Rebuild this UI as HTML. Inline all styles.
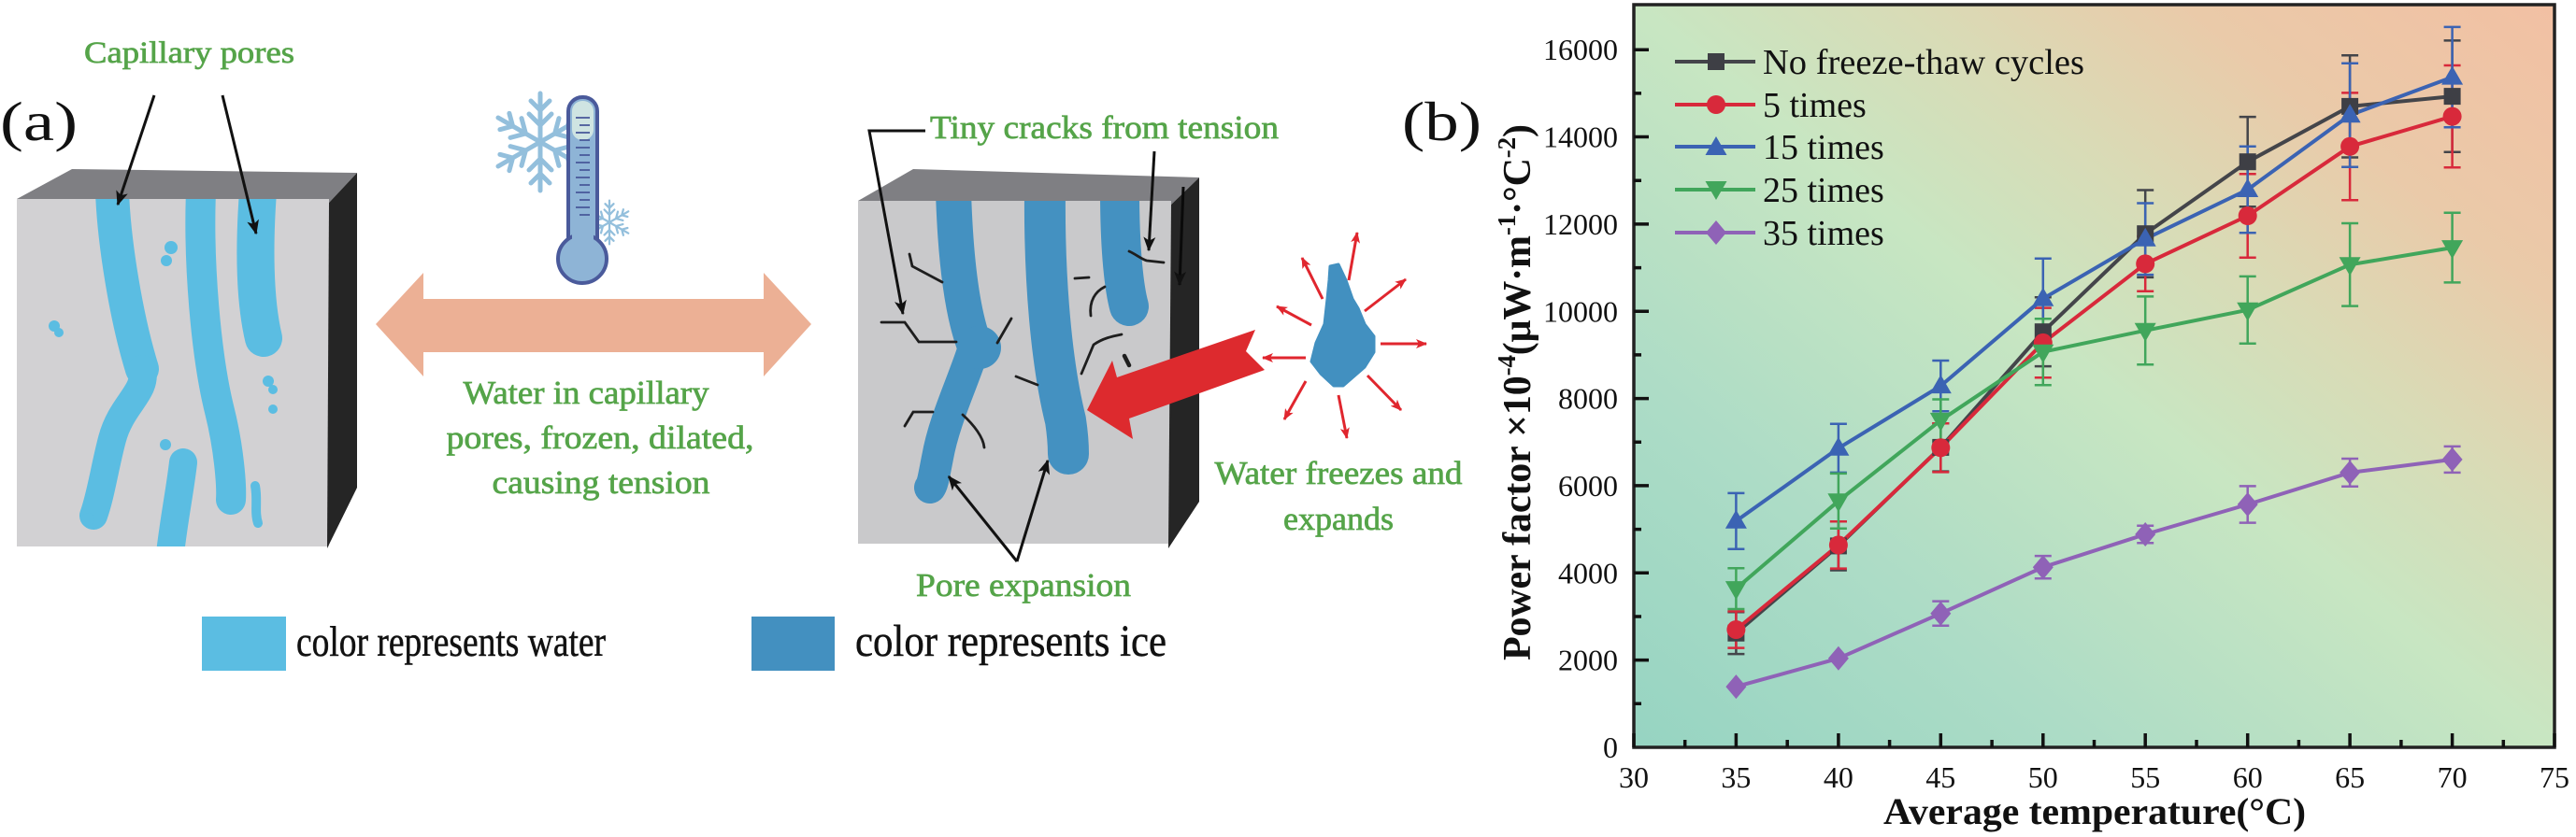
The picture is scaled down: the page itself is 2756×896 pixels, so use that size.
<!DOCTYPE html>
<html>
<head>
<meta charset="utf-8">
<style>
html,body{margin:0;padding:0;background:#fff;}
svg{display:block;font-family:"Liberation Serif","Times New Roman",Times,"Nimbus Roman","FreeSerif","DejaVu Serif",serif;}
svg text{font-family:"Liberation Serif","Times New Roman",Times,"Nimbus Roman","FreeSerif","DejaVu Serif",serif;}
</style>
</head>
<body>
<svg width="2756" height="896" viewBox="0 0 2756 896" xmlns="http://www.w3.org/2000/svg" font-family="Liberation Serif, Times New Roman, Times, DejaVu Serif, serif">
<defs>
  <linearGradient id="bg" x1="0" y1="1" x2="1" y2="0">
    <stop offset="0" stop-color="#96d4c2"/>
    <stop offset="0.25" stop-color="#addcc6"/>
    <stop offset="0.5" stop-color="#c8e6c2"/>
    <stop offset="0.65" stop-color="#d9dbb6"/>
    <stop offset="0.8" stop-color="#eacaa9"/>
    <stop offset="1" stop-color="#f2c0a3"/>
  </linearGradient>
  <clipPath id="f1"><rect x="18" y="213" width="334" height="372"/></clipPath>
  <clipPath id="f2"><rect x="918" y="215" width="335" height="367"/></clipPath>
  <marker id="ah" viewBox="0 0 12 10" refX="11" refY="5" markerWidth="16" markerHeight="13" markerUnits="userSpaceOnUse" orient="auto">
    <path d="M0,0 L12,5 L0,10 L3,5 z" fill="#111"/>
  </marker>
  <marker id="rh" viewBox="0 0 12 10" refX="11" refY="5" markerWidth="12" markerHeight="10" markerUnits="userSpaceOnUse" orient="auto">
    <path d="M0,0 L12,5 L0,10 L3,5 z" fill="#e0262e"/>
  </marker>
  <rect id="sq" x="-9" y="-9" width="18" height="18" fill="#3e3f45"/>
  <circle id="ci" r="10" fill="#d8293b"/>
  <path id="tu" d="M0,-12 L11.5,8 L-11.5,8Z" fill="#3b63b3"/>
  <path id="td" d="M0,12 L11.5,-8 L-11.5,-8Z" fill="#41a65b"/>
  <path id="di" d="M0,-13 L11,0 L0,13 L-11,0Z" fill="#8f62b7"/>
  <g id="flake" stroke="#93bfdc" stroke-width="5" stroke-linecap="round" fill="none">
    <path d="M0,0 L0,-52 M0,-18 L-12,-30 M0,-18 L12,-30 M0,-34 L-10,-44 M0,-34 L10,-44"/>
  </g>
</defs>

<!-- ================= PANEL (a) ================= -->
<text x="0" y="150" font-size="59" fill="#111" textLength="83" lengthAdjust="spacingAndGlyphs">(a)</text>
<g fill="#55a449" stroke="#55a449" stroke-width="0.7">
<text x="90" y="67" font-size="33" textLength="225" lengthAdjust="spacingAndGlyphs">Capillary pores</text>
</g>

<!-- cube 1 -->
<polygon points="18,213 77,181 382,185 352,217" fill="#7f7f83"/>
<rect x="18" y="213" width="334" height="372" fill="#d2d1d3"/>
<polygon points="352,217 382,185 382,522 350,587" fill="#252525"/>
<g clip-path="url(#f1)" fill="none" stroke="#5bbde2" stroke-linecap="round" stroke-linejoin="round">
  <path d="M120,205 C122,260 135,340 152,395" stroke-width="36"/>
  <path d="M152,395 C158,420 130,432 120,470 C112,500 108,530 100,552" stroke-width="30"/>
  <path d="M215,205 C212,280 220,380 235,440 C245,480 248,520 247,535" stroke-width="32"/>
  <path d="M276,205 C272,260 272,320 282,362" stroke-width="40"/>
  <path d="M196,495 C192,530 185,560 180,610" stroke-width="30"/>
  <path d="M273,520 C276,535 272,548 276,560" stroke-width="10"/>
</g>
<g fill="#5bbde2">
  <circle cx="58" cy="349" r="6"/><circle cx="63" cy="356" r="5"/>
  <circle cx="183" cy="265" r="7"/><circle cx="178" cy="279" r="6"/>
  <circle cx="287" cy="408" r="6"/><circle cx="292" cy="417" r="5"/><circle cx="292" cy="438" r="5"/>
  <circle cx="177" cy="476" r="6"/>
  <circle cx="94" cy="556" r="7"/>
</g>
<line x1="165" y1="102" x2="126" y2="219" stroke="#111" stroke-width="3" marker-end="url(#ah)"/>
<line x1="238" y1="102" x2="274" y2="250" stroke="#111" stroke-width="3" marker-end="url(#ah)"/>

<!-- snowflake + thermometer -->
<g transform="translate(578,152)">
  <use href="#flake"/><use href="#flake" transform="rotate(60)"/><use href="#flake" transform="rotate(120)"/>
  <use href="#flake" transform="rotate(180)"/><use href="#flake" transform="rotate(240)"/><use href="#flake" transform="rotate(300)"/>
</g>
<g transform="translate(652,238) scale(0.45)">
  <use href="#flake"/><use href="#flake" transform="rotate(60)"/><use href="#flake" transform="rotate(120)"/>
  <use href="#flake" transform="rotate(180)"/><use href="#flake" transform="rotate(240)"/><use href="#flake" transform="rotate(300)"/>
</g>
<rect x="608" y="104" width="31" height="170" rx="15" fill="#8eb4d6" stroke="#4a5a9b" stroke-width="4"/>
<circle cx="623" cy="277" r="26" fill="#8eb4d6" stroke="#4a5a9b" stroke-width="4"/>
<rect x="612" y="240" width="23" height="40" fill="#8eb4d6"/>
<rect x="612" y="108" width="23" height="42" rx="11" fill="#cfe4e2"/>
<g stroke="#4a5a9b" stroke-width="1.8">
  <line x1="616" y1="126" x2="631" y2="126"/><line x1="620" y1="134" x2="631" y2="134"/>
  <line x1="616" y1="142" x2="631" y2="142"/><line x1="620" y1="150" x2="631" y2="150"/>
  <line x1="616" y1="158" x2="631" y2="158"/><line x1="620" y1="166" x2="631" y2="166"/>
  <line x1="616" y1="174" x2="631" y2="174"/><line x1="620" y1="182" x2="631" y2="182"/>
  <line x1="616" y1="190" x2="631" y2="190"/><line x1="620" y1="198" x2="631" y2="198"/>
  <line x1="616" y1="206" x2="631" y2="206"/><line x1="620" y1="214" x2="631" y2="214"/>
  <line x1="616" y1="222" x2="631" y2="222"/><line x1="620" y1="230" x2="631" y2="230"/>
</g>

<!-- double arrow -->
<polygon points="402,347 453,292 453,320 817,320 817,292 868,347 817,403 817,377 453,377 453,403" fill="#ecb095"/>
<g font-size="35" fill="#55a449" stroke="#55a449" stroke-width="0.7" text-anchor="middle">
  <text x="627" y="432" textLength="263" lengthAdjust="spacingAndGlyphs">Water in capillary</text>
  <text x="642" y="480" textLength="329" lengthAdjust="spacingAndGlyphs">pores, frozen, dilated,</text>
  <text x="643" y="528" textLength="233" lengthAdjust="spacingAndGlyphs">causing tension</text>
</g>

<!-- cube 2 -->
<polygon points="918,215 977,181 1283,190 1253,219" fill="#7f7f83"/>
<rect x="918" y="215" width="335" height="367" fill="#c9c9cb"/>
<polygon points="1253,219 1283,190 1283,537 1250,587" fill="#252525"/>
<line x1="1266" y1="200" x2="1262" y2="305" stroke="#0a0a0a" stroke-width="3" marker-end="url(#ah)"/>
<g clip-path="url(#f2)" fill="none" stroke="#4491c1" stroke-linecap="round" stroke-linejoin="round">
  <path d="M1020,205 C1022,270 1028,330 1042,368" stroke-width="38"/>
  <path d="M1042,372 C1030,410 1010,450 1003,490 C999,510 998,518 995,522" stroke-width="34"/>
  <path d="M1118,205 C1117,300 1125,390 1140,450 C1143,470 1143,480 1143,486" stroke-width="44"/>
  <path d="M1198,205 C1198,270 1203,310 1208,328" stroke-width="42"/>
</g>
<circle cx="1048" cy="372" r="23" fill="#4491c1"/>
<g fill="none" stroke="#1e1e1e" stroke-width="2.8" stroke-linecap="round">
  <path d="M973,272 L976,285 L1008,302"/>
  <path d="M943,345 L968,345 L983,366 L1023,366"/>
  <path d="M1067,367 L1082,341"/>
  <path d="M1150,298 L1165,297"/>
  <path d="M1167,338 C1165,322 1172,312 1182,307"/>
  <path d="M1157,400 L1170,369 C1180,362 1190,360 1200,358"/>
  <path d="M1087,403 L1110,412"/>
  <path d="M1203,381 L1208,391" stroke-width="4.5"/>
  <path d="M968,456 L977,441 L998,441"/>
  <path d="M1030,444 C1042,455 1052,468 1053,479"/>
  <path d="M1208,269 C1215,272 1222,278 1227,279 L1245,281"/>
</g>
<polyline points="990,140 930,140 966,336" fill="none" stroke="#111" stroke-width="3" marker-end="url(#ah)"/>
<line x1="1235" y1="162" x2="1229" y2="268" stroke="#111" stroke-width="3" marker-end="url(#ah)"/>
<g fill="#55a449" stroke="#55a449" stroke-width="0.7" font-size="35">
<text x="995" y="148" textLength="373" lengthAdjust="spacingAndGlyphs">Tiny cracks from tension</text>
<text x="980" y="638" textLength="230" lengthAdjust="spacingAndGlyphs">Pore expansion</text>
</g>
<line x1="1088" y1="601" x2="1015" y2="510" stroke="#111" stroke-width="3" marker-end="url(#ah)"/>
<line x1="1088" y1="601" x2="1121" y2="493" stroke="#111" stroke-width="3" marker-end="url(#ah)"/>

<!-- red big arrow -->
<polygon points="1163,439 1190,386 1195,404 1343,353 1333,376 1353,396 1208,448 1212,470" fill="#dd2a2e"/>

<!-- ice blob -->
<polygon points="1423,285 1432,283 1440,300 1447,320 1453,330 1460,347 1470,360 1470,377 1460,393 1437,413 1427,413 1413,400 1403,387 1408,367 1417,347 1420,320 1422,300" fill="#4290c0" stroke="#4290c0" stroke-width="3" stroke-linejoin="round"/>
<g stroke="#e0262e" stroke-width="3" marker-end="url(#rh)">
  <line x1="1443" y1="300" x2="1452" y2="249"/>
  <line x1="1415" y1="320" x2="1393" y2="276"/>
  <line x1="1403" y1="348" x2="1366" y2="328"/>
  <line x1="1397" y1="383" x2="1351" y2="383"/>
  <line x1="1397" y1="408" x2="1374" y2="449"/>
  <line x1="1432" y1="423" x2="1441" y2="469"/>
  <line x1="1463" y1="402" x2="1499" y2="439"/>
  <line x1="1477" y1="368" x2="1526" y2="368"/>
  <line x1="1460" y1="333" x2="1504" y2="299"/>
</g>
<g font-size="35" fill="#55a449" stroke="#55a449" stroke-width="0.7" text-anchor="middle">
  <text x="1432" y="518" textLength="265" lengthAdjust="spacingAndGlyphs">Water freezes and</text>
  <text x="1432" y="567" textLength="118" lengthAdjust="spacingAndGlyphs">expands</text>
</g>

<!-- legend (a) -->
<rect x="216" y="660" width="90" height="58" fill="#5bbde2"/>
<text x="317" y="702" font-size="46" fill="#111" stroke="#111" stroke-width="0.5" textLength="331" lengthAdjust="spacingAndGlyphs">color represents water</text>
<rect x="804" y="660" width="89" height="58" fill="#4390c0"/>
<text x="915" y="702" font-size="48" fill="#111" stroke="#111" stroke-width="0.5" textLength="333" lengthAdjust="spacingAndGlyphs">color represents ice</text>

<!-- ================= PANEL (b) ================= -->
<text x="1500" y="150" font-size="59" fill="#111" textLength="85" lengthAdjust="spacingAndGlyphs">(b)</text>

<rect x="1748" y="5" width="985" height="795" fill="url(#bg)"/>

<!-- error bars -->
<g stroke-width="2.5" fill="none">
  <g stroke="#44454a">
    <path d="M1857.4,655.3V700.1M1848.4,655.3H1866.4M1848.4,700.1H1866.4"/>
    <path d="M1966.9,558.3V610.5M1957.9,558.3H1975.9M1957.9,610.5H1975.9"/>
    <path d="M2076.3,453.2V504.6M2067.3,453.2H2085.3M2067.3,504.6H2085.3"/>
    <path d="M2185.8,318.3V392.1M2176.8,318.3H2194.8M2176.8,392.1H2194.8"/>
    <path d="M2295.2,203.5V296.9M2286.2,203.5H2304.2M2286.2,296.9H2304.2"/>
    <path d="M2404.7,125.1V221.3M2395.7,125.1H2413.7M2395.7,221.3H2413.7"/>
    <path d="M2514.1,59.3V168.5M2505.1,59.3H2523.1M2505.1,168.5H2523.1"/>
    <path d="M2623.6,43.4V162.8M2614.6,43.4H2632.6M2614.6,162.8H2632.6"/>
  </g>
  <g stroke="#d8293b">
    <path d="M1857.4,654.4V693.6M1848.4,654.4H1866.4M1848.4,693.6H1866.4"/>
    <path d="M1966.9,558.2V608.6M1957.9,558.2H1975.9M1957.9,608.6H1975.9"/>
    <path d="M2076.3,453.2V505.4M2067.3,453.2H2085.3M2067.3,505.4H2085.3"/>
    <path d="M2185.8,329.6V404.2M2176.8,329.6H2194.8M2176.8,404.2H2194.8"/>
    <path d="M2295.2,253.0V311.8M2286.2,253.0H2304.2M2286.2,311.8H2304.2"/>
    <path d="M2404.7,186.2V275.8M2395.7,186.2H2413.7M2395.7,275.8H2413.7"/>
    <path d="M2514.1,99.4V214.2M2505.1,99.4H2523.1M2505.1,214.2H2523.1"/>
    <path d="M2623.6,70.0V179.2M2614.6,70.0H2632.6M2614.6,179.2H2632.6"/>
  </g>
  <g stroke="#3b63b3">
    <path d="M1857.4,527.9V587.7M1848.4,527.9H1866.4M1848.4,587.7H1866.4"/>
    <path d="M1966.9,453.7V505.9M1957.9,453.7H1975.9M1957.9,505.9H1975.9"/>
    <path d="M2076.3,386.0V440.2M2067.3,386.0H2085.3M2067.3,440.2H2085.3"/>
    <path d="M2185.8,276.8V362.6M2176.8,276.8H2194.8M2176.8,362.6H2194.8"/>
    <path d="M2295.2,217.5V294.1M2286.2,217.5H2304.2M2286.2,294.1H2304.2"/>
    <path d="M2404.7,156.8V249.2M2395.7,156.8H2413.7M2395.7,249.2H2413.7"/>
    <path d="M2514.1,67.7V178.7M2505.1,67.7H2523.1M2505.1,178.7H2523.1"/>
    <path d="M2623.6,28.9V136.3M2614.6,28.9H2632.6M2614.6,136.3H2632.6"/>
  </g>
  <g stroke="#41a65b">
    <path d="M1857.4,608.2V652.0M1848.4,608.2H1866.4M1848.4,652.0H1866.4"/>
    <path d="M1966.9,506.9V565.7M1957.9,506.9H1975.9M1957.9,565.7H1975.9"/>
    <path d="M2076.3,427.5V472.3M2067.3,427.5H2085.3M2067.3,472.3H2085.3"/>
    <path d="M2185.8,341.2V412.2M2176.8,341.2H2194.8M2176.8,412.2H2194.8"/>
    <path d="M2295.2,317.4V390.2M2286.2,317.4H2304.2M2286.2,390.2H2304.2"/>
    <path d="M2404.7,295.9V367.7M2395.7,295.9H2413.7M2395.7,367.7H2413.7"/>
    <path d="M2514.1,239.0V327.6M2505.1,239.0H2523.1M2505.1,327.6H2523.1"/>
    <path d="M2623.6,227.8V302.4M2614.6,227.8H2632.6M2614.6,302.4H2632.6"/>
  </g>
  <g stroke="#8f62b7">
    <path d="M2076.3,643.6V669.8M2067.3,643.6H2085.3M2067.3,669.8H2085.3"/>
    <path d="M2185.8,595.1V619.3M2176.8,595.1H2194.8M2176.8,619.3H2194.8"/>
    <path d="M2295.2,562.7V581.3M2286.2,562.7H2304.2M2286.2,581.3H2304.2"/>
    <path d="M2404.7,520.4V559.6M2395.7,520.4H2413.7M2395.7,559.6H2413.7"/>
    <path d="M2514.1,491.0V520.8M2505.1,491.0H2523.1M2505.1,520.8H2523.1"/>
    <path d="M2623.6,477.9V505.9M2614.6,477.9H2632.6M2614.6,505.9H2632.6"/>
  </g>
</g>

<!-- series lines -->
<g fill="none" stroke-width="4" stroke-linejoin="round">
  <polyline stroke="#44454a" points="1857.4,677.7 1966.9,584.4 2076.3,478.9 2185.8,355.2 2295.2,250.2 2404.7,173.2 2514.1,113.9 2623.6,103.1"/>
  <polyline stroke="#d8293b" points="1857.4,674.0 1966.9,583.4 2076.3,479.3 2185.8,366.9 2295.2,282.4 2404.7,231.0 2514.1,156.8 2623.6,124.6"/>
  <polyline stroke="#3b63b3" points="1857.4,557.8 1966.9,479.8 2076.3,413.1 2185.8,319.7 2295.2,255.8 2404.7,203.0 2514.1,123.2 2623.6,82.6"/>
  <polyline stroke="#41a65b" points="1857.4,630.1 1966.9,536.3 2076.3,449.9 2185.8,376.7 2295.2,353.8 2404.7,331.8 2514.1,283.3 2623.6,265.1"/>
  <polyline stroke="#8f62b7" points="1857.4,735.1 1966.9,704.8 2076.3,656.7 2185.8,607.2 2295.2,572.0 2404.7,540.0 2514.1,505.9 2623.6,491.9"/>
</g>

<!-- markers -->
<g>
  <use href="#sq" x="1857.4" y="677.7"/><use href="#sq" x="1966.9" y="584.4"/><use href="#sq" x="2076.3" y="478.9"/><use href="#sq" x="2185.8" y="355.2"/>
  <use href="#sq" x="2295.2" y="250.2"/><use href="#sq" x="2404.7" y="173.2"/><use href="#sq" x="2514.1" y="113.9"/><use href="#sq" x="2623.6" y="103.1"/>
  <use href="#ci" x="1857.4" y="674.0"/><use href="#ci" x="1966.9" y="583.4"/><use href="#ci" x="2076.3" y="479.3"/><use href="#ci" x="2185.8" y="366.9"/>
  <use href="#ci" x="2295.2" y="282.4"/><use href="#ci" x="2404.7" y="231.0"/><use href="#ci" x="2514.1" y="156.8"/><use href="#ci" x="2623.6" y="124.6"/>
  <use href="#tu" x="1857.4" y="557.8"/><use href="#tu" x="1966.9" y="479.8"/><use href="#tu" x="2076.3" y="413.1"/><use href="#tu" x="2185.8" y="319.7"/>
  <use href="#tu" x="2295.2" y="255.8"/><use href="#tu" x="2404.7" y="203.0"/><use href="#tu" x="2514.1" y="123.2"/><use href="#tu" x="2623.6" y="82.6"/>
  <use href="#td" x="1857.4" y="630.1"/><use href="#td" x="1966.9" y="536.3"/><use href="#td" x="2076.3" y="449.9"/><use href="#td" x="2185.8" y="376.7"/>
  <use href="#td" x="2295.2" y="353.8"/><use href="#td" x="2404.7" y="331.8"/><use href="#td" x="2514.1" y="283.3"/><use href="#td" x="2623.6" y="265.1"/>
  <use href="#di" x="1857.4" y="735.1"/><use href="#di" x="1966.9" y="704.8"/><use href="#di" x="2076.3" y="656.7"/><use href="#di" x="2185.8" y="607.2"/>
  <use href="#di" x="2295.2" y="572.0"/><use href="#di" x="2404.7" y="540.0"/><use href="#di" x="2514.1" y="505.9"/><use href="#di" x="2623.6" y="491.9"/>
</g>

<!-- legend (b) -->
<g stroke-width="4">
  <line x1="1792" y1="66" x2="1878" y2="66" stroke="#44454a"/>
  <line x1="1792" y1="112" x2="1878" y2="112" stroke="#d8293b"/>
  <line x1="1792" y1="157" x2="1878" y2="157" stroke="#3b63b3"/>
  <line x1="1792" y1="203" x2="1878" y2="203" stroke="#41a65b"/>
  <line x1="1792" y1="249" x2="1878" y2="249" stroke="#8f62b7"/>
</g>
<use href="#sq" x="1836" y="66"/><use href="#ci" x="1836" y="112"/><use href="#tu" x="1836" y="158"/>
<use href="#td" x="1836" y="202"/><use href="#di" x="1836" y="249"/>
<g font-size="38" fill="#111">
  <text x="1886" y="79" textLength="344" lengthAdjust="spacingAndGlyphs">No freeze-thaw cycles</text>
  <text x="1886" y="125">5 times</text>
  <text x="1886" y="170">15 times</text>
  <text x="1886" y="216">25 times</text>
  <text x="1886" y="262">35 times</text>
</g>

<!-- frame -->
<rect x="1748" y="5" width="985" height="795" fill="none" stroke="#222" stroke-width="3.5"/>

<!-- ticks -->
<g stroke="#111" stroke-width="3.5">
  <path d="M1748,800V785M1857.4,800V785M1966.9,800V785M2076.3,800V785M2185.8,800V785M2295.2,800V785M2404.7,800V785M2514.1,800V785M2623.6,800V785M2733,800V785"/>
  <path d="M1802.7,800V792M1912.2,800V792M2021.6,800V792M2131.1,800V792M2240.5,800V792M2350,800V792M2459.4,800V792M2568.9,800V792M2678.3,800V792"/>
  <path d="M1748,706.6H1764M1748,613.3H1764M1748,519.9H1764M1748,426.6H1764M1748,333.3H1764M1748,239.9H1764M1748,146.5H1764M1748,53.2H1764"/>
  <path d="M1748,753.3H1756M1748,660H1756M1748,566.6H1756M1748,473.3H1756M1748,379.9H1756M1748,286.6H1756M1748,193.2H1756M1748,99.9H1756"/>
</g>

<!-- tick labels -->
<g font-size="32" fill="#111" text-anchor="middle">
  <text x="1748" y="843">30</text><text x="1857.4" y="843">35</text><text x="1966.9" y="843">40</text>
  <text x="2076.3" y="843">45</text><text x="2185.8" y="843">50</text><text x="2295.2" y="843">55</text>
  <text x="2404.7" y="843">60</text><text x="2514.1" y="843">65</text><text x="2623.6" y="843">70</text>
  <text x="2733" y="843">75</text>
</g>
<g font-size="32" fill="#111" text-anchor="end">
  <text x="1731" y="811">0</text>
  <text x="1731" y="717.6">2000</text>
  <text x="1731" y="624.3">4000</text>
  <text x="1731" y="530.9">6000</text>
  <text x="1731" y="437.6">8000</text>
  <text x="1731" y="344.3">10000</text>
  <text x="1731" y="250.9">12000</text>
  <text x="1731" y="157.5">14000</text>
  <text x="1731" y="64.2">16000</text>
</g>

<!-- axis titles -->
<text x="2241" y="882" font-size="40" font-weight="bold" fill="#111" text-anchor="middle" textLength="452" lengthAdjust="spacingAndGlyphs">Average temperature(°C)</text>
<text transform="translate(1637,420) rotate(-90)" font-size="42" font-weight="bold" fill="#111" text-anchor="middle" textLength="574" lengthAdjust="spacing">Power factor ×10<tspan dy="-16" font-size="27">-4</tspan><tspan dy="16">(μW·m</tspan><tspan dy="-16" font-size="27">-1</tspan><tspan dy="16">·°C</tspan><tspan dy="-16" font-size="27">-2</tspan><tspan dy="16">)</tspan></text>
</svg>
</body>
</html>
